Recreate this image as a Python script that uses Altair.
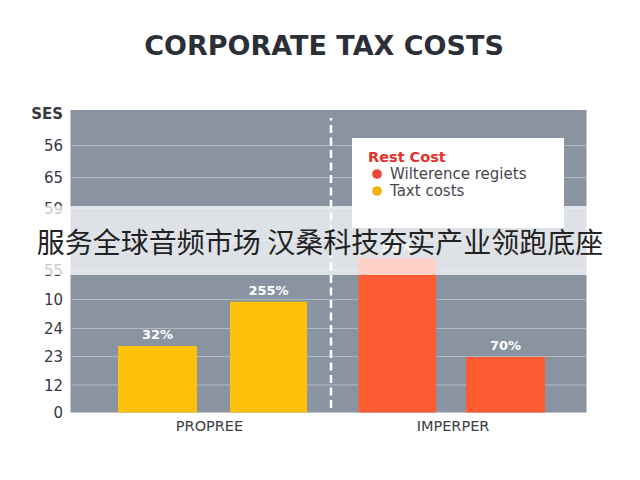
import altair as alt
import pandas as pd

# plot-unit scale: x 0..516 left to right, y 0..302.5 bottom to top
bar_x0 = [47.5, 159.5, 288, 395.5]
bar_x1 = [126.5, 236.5, 365.5, 474.5]
bar_h = [66.5, 110.8, 154.5, 55.5]
bar_lab = ["32%", "255%", "55%", "70%"]
bar_col = ["#ffc107", "#ffc107", "#ff5c33", "#ff5c33"]
y_ticks = [0, 27.5, 56, 84, 113, 142, 172, 204, 235, 267, 299.5]
y_labels = ["0", "12", "23", "24", "10", "55", "", "59", "65", "56", "SES"]
grid_vals = [27.5, 56, 84, 113, 142, 172, 204, 235, 267]
x_ticks = [138.5, 382]
x_labels = ["PROPREE", "IMPERPER"]
leg_names = ["Wilterence regiets", "Taxt costs"]
leg_cols = ["#f0483a", "#f2b111"]
leg_y = [238.5, 221.5]

Y = alt.Scale(domain=[0, 302.5], nice=False, zero=False)
X = alt.Scale(domain=[0, 516], nice=False, zero=False)

ylab = "{" + ",".join(f"'{v}':'{l}'" for v, l in zip(y_ticks, y_labels)) + "}"
xlab = "{" + ",".join(f"'{v}':'{l}'" for v, l in zip(x_ticks, x_labels)) + "}"

x_axis = alt.Axis(
    values=x_ticks, labelExpr=f"{xlab}[datum.value]", grid=False, ticks=False,
    domain=False, labelFont="DejaVu Sans", labelFontSize=14.5, labelColor="#3a3d42",
    labelPadding=7, labelOverlap=False, labelFlush=False, labelAngle=0)
y_axis = alt.Axis(
    values=y_ticks, labelExpr=f"{ylab}[datum.value]", grid=False, ticks=False,
    domain=False, labelFont="DejaVu Sans", labelFontSize=15, labelColor="#35383d",
    labelPadding=8, labelOverlap=False, labelFlush=False,
    labelFontWeight=alt.expr("datum.value > 290 ? 'bold' : 'normal'"))


def xe(field="x"):
    return alt.X(f"{field}:Q", scale=X, title=None, axis=x_axis)


def ye(field="y"):
    return alt.Y(f"{field}:Q", scale=Y, title=None, axis=y_axis)


bg = alt.Chart(pd.DataFrame({"x": [0], "x2": [516], "y": [0], "y2": [302.5]})).mark_rect(color="#8a94a1").encode(
    x=xe(), x2="x2:Q", y=ye(), y2="y2:Q")

grid = alt.Chart(pd.DataFrame({"y": grid_vals, "x": [0] * 9, "x2": [516] * 9})).mark_rule(
    color="#b0b8c1", strokeWidth=1).encode(x=xe(), x2="x2:Q", y=ye())

bars_df = pd.DataFrame({"x": bar_x0, "x2": bar_x1, "y": bar_h, "y0": [0] * 4,
                        "c": bar_col, "t": bar_lab,
                        "m": [(a + b) / 2 for a, b in zip(bar_x0, bar_x1)]})
bars = alt.Chart(bars_df).mark_rect().encode(
    x=xe(), x2="x2:Q", y=ye(), y2="y0:Q", color=alt.Color("c:N", scale=None))
labels = alt.Chart(bars_df).mark_text(color="white", fontWeight="bold", font="DejaVu Sans",
                                      fontSize=13, dy=-11).encode(
    x=xe("m"), y=ye(), text="t:N")

divider = alt.Chart(pd.DataFrame({"x": [260.5], "y": [4.5], "y2": [294.5]})).mark_rule(
    color="white", strokeWidth=2.5, strokeDash=[8, 4.5]).encode(x=xe(), y=ye(), y2="y2:Q")

box = alt.Chart(pd.DataFrame({"x": [281.5], "x2": [493.5], "y": [184.5], "y2": [274.5]})).mark_rect(
    color="white").encode(x=xe(), x2="x2:Q", y=ye(), y2="y2:Q")
leg_title = alt.Chart(pd.DataFrame({"x": [297.5], "y": [255], "t": ["Rest Cost"]})).mark_text(
    align="left", baseline="middle", color="#e8302a", fontWeight="bold", font="DejaVu Sans",
    fontSize=14.5).encode(x=xe(), y=ye(), text="t:N")
leg_df = pd.DataFrame({"x": [306.5] * 2, "tx": [319.5] * 2, "y": leg_y, "c": leg_cols, "t": leg_names})
leg_dots = alt.Chart(leg_df).mark_point(filled=True, opacity=1, size=95).encode(
    x=xe(), y=ye(), color=alt.Color("c:N", scale=None))
leg_text = alt.Chart(leg_df).mark_text(align="left", baseline="middle", color="#44474c",
                                       font="DejaVu Sans", fontSize=15).encode(
    x=xe("tx"), y=ye(), text="t:N")

title = alt.Chart(pd.DataFrame({"x": [253.5], "y": [365.5], "t": ["CORPORATE TAX COSTS"]})).mark_text(
    baseline="middle", color="#2b3038", fontWeight="bold", font="DejaVu Sans", fontSize=27).encode(
    x=xe(), y=ye(), text="t:N")

band = alt.Chart(pd.DataFrame({"x": [-70.5], "x2": [569.5], "y": [137.5], "y2": [206.5]})).mark_rect(
    color="white", opacity=0.72).encode(x=xe(), x2="x2:Q", y=ye(), y2="y2:Q")
caption = alt.Chart(pd.DataFrame({"x": [249.5], "y": [168], "t": ["服务全球音频市场 汉桑科技夯实产业领跑底座"]})).mark_text(
    baseline="middle", color="#222222", font="Noto Sans CJK SC", fontSize=28).encode(
    x=xe(), y=ye(), text="t:N")

chart = alt.layer(bg, grid, bars, labels, divider, box, leg_title, leg_dots, leg_text,
                  title, band, caption).properties(
    width=516, height=302.5, background="white",
    padding={"left": 62.5, "top": 102, "right": 45, "bottom": 60},
    autosize=alt.AutoSizeParams(type="none"),
).configure_view(stroke=None)

chart.save("out.html", embed_options={"renderer": "svg", "actions": False})
